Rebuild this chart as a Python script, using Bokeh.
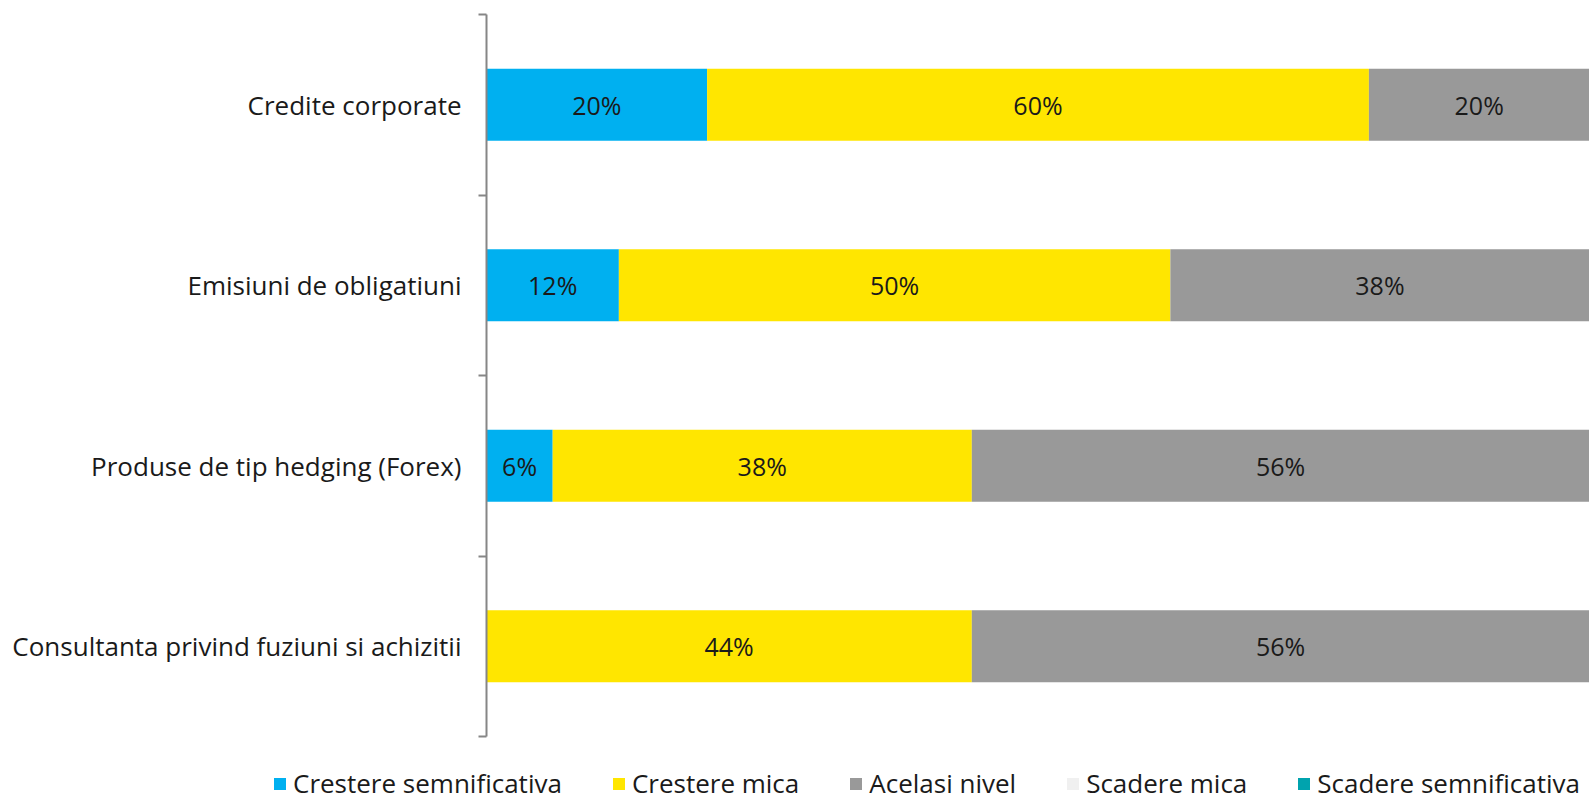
from bokeh.plotting import figure
from bokeh.models import ColumnDataSource, Range1d, FixedTicker, Legend, LegendItem
from bokeh.core.properties import value
from bokeh.embed import file_html
from bokeh.resources import INLINE

categories = ["Credite corporate", "Emisiuni de obligatiuni",
              "Produse de tip hedging (Forex)", "Consultanta privind fuziuni si achizitii"]
series_names = ["Crestere semnificativa", "Crestere mica", "Acelasi nivel",
                "Scadere mica", "Scadere semnificativa"]
crestere_semnificativa = [20, 12, 6, 0]
crestere_mica = [60, 50, 38, 44]
acelasi_nivel = [20, 38, 56, 56]
scadere_mica = [0, 0, 0, 0]
scadere_semnificativa = [0, 0, 0, 0]
colors = ["#00B0F0", "#FFE600", "#999999", "#F0F0F0", "#00A3AE"]

FONT = "Open Sans"
n = len(categories)
ypos = [n - i - 0.5 for i in range(n)]  # top to bottom

data = dict(y=ypos)
keys = ["s0", "s1", "s2", "s3", "s4"]
all_series = [crestere_semnificativa, crestere_mica, acelasi_nivel,
              scadere_mica, scadere_semnificativa]
for k, vals in zip(keys, all_series):
    data[k] = vals
source = ColumnDataSource(data)

p = figure(width=1589, height=745, output_backend="svg", toolbar_location=None,
           x_range=Range1d(0, 100), y_range=Range1d(0, n),
           min_border_left=486, min_border_right=0, min_border_top=14, min_border_bottom=9)
p.outline_line_color = None
p.grid.grid_line_color = None
p.xaxis.visible = False

renderers = p.hbar_stack(keys, y="y", height=0.4, color=colors, source=source,
                         line_color=None)

# value labels
lx, ly, lt = [], [], []
for j in range(n):
    left = 0
    for vals in all_series:
        v = vals[j]
        if v > 0:
            lx.append(left + v / 2)
            ly.append(ypos[j])
            lt.append(f"{v}%")
        left += v
p.text(x=lx, y=ly, text=lt, text_align="center", text_baseline="middle",
       text_font=value(FONT), text_font_size="25px", text_color="#1a1a1a")

yax = p.yaxis[0]
yax.ticker = FixedTicker(ticks=ypos, minor_ticks=[0, 1, 2, 3, 4])
yax.major_label_overrides = {y: c for y, c in zip(ypos, categories)}
yax.major_tick_out = 0
yax.major_tick_in = 0
yax.minor_tick_out = 8
yax.minor_tick_in = 0
yax.minor_tick_line_color = "#868686"
yax.minor_tick_line_width = 2
yax.axis_line_color = "#868686"
yax.axis_line_width = 2
yax.major_label_standoff = 17
yax.major_label_text_font = FONT
yax.major_label_text_font_size = "26px"
yax.major_label_text_color = "#1a1a1a"

# legend strip (separate root so its frame spans the full width)
pl = figure(width=1589, height=56, output_backend="svg", toolbar_location=None,
            x_range=Range1d(0, 100), y_range=Range1d(10, 11),
            min_border_left=0, min_border_right=0, min_border_top=0, min_border_bottom=0)
pl.axis.visible = False
pl.grid.grid_line_color = None
pl.outline_line_color = None
leg_r = pl.hbar_stack(keys, y="y", height=0.4, color=colors, source=source,
                      line_color=None)
items = [LegendItem(label=nm, renderers=[r]) for nm, r in zip(series_names, leg_r)]
legend = Legend(items=items, orientation="horizontal", location=(272, 0),
                glyph_width=15, glyph_height=15, label_standoff=6, spacing=49,
                padding=0, margin=0, border_line_color=None, background_fill_alpha=0,
                label_text_font=FONT, label_text_font_size="26px", label_text_color="#1a1a1a")
pl.add_layout(legend, "center")

open("out.html", "w").write(file_html([p, pl], INLINE))
